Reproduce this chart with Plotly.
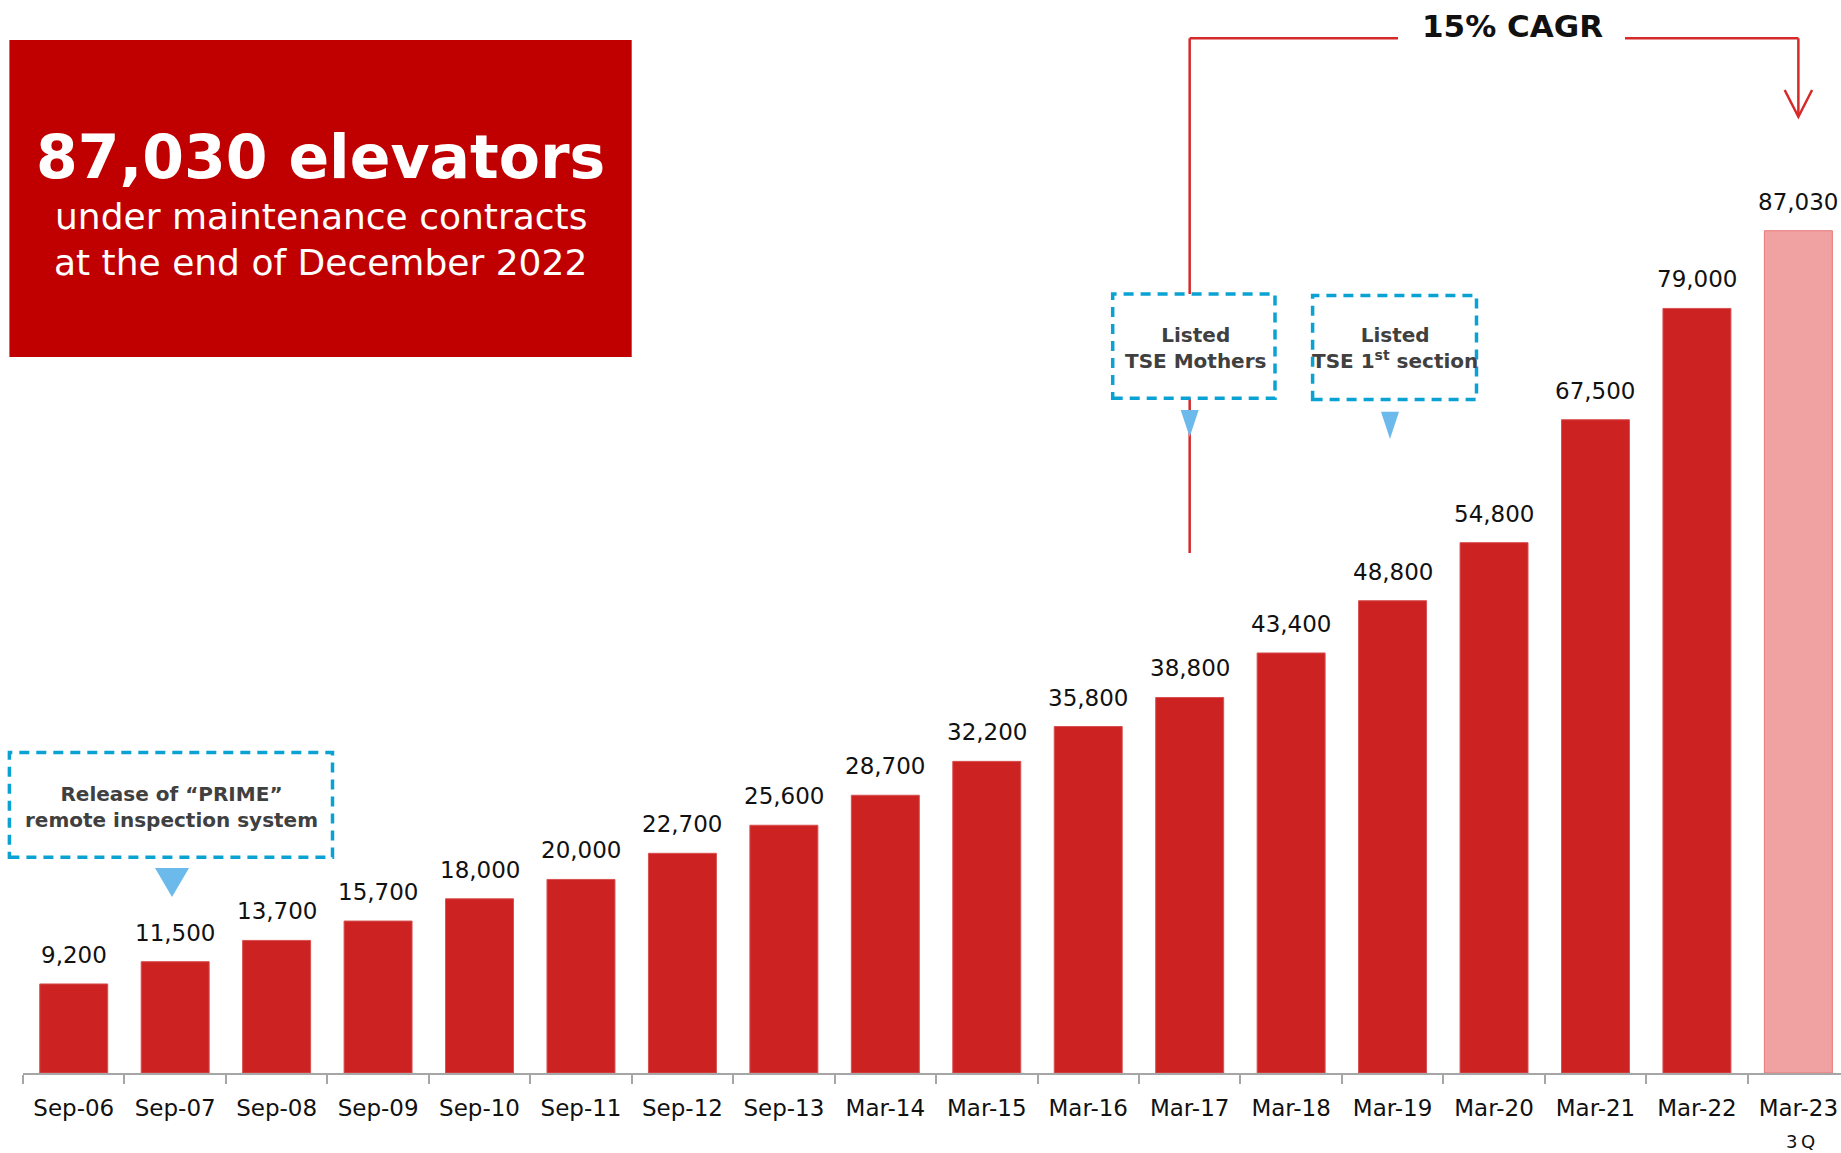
import plotly.graph_objects as go

# ---------------- data ----------------
categories = ["Sep-06", "Sep-07", "Sep-08", "Sep-09", "Sep-10", "Sep-11", "Sep-12",
              "Sep-13", "Mar-14", "Mar-15", "Mar-16", "Mar-17", "Mar-18", "Mar-19",
              "Mar-20", "Mar-21", "Mar-22", "Mar-23"]
units = [9200, 11500, 13700, 15700, 18000, 20000, 22700, 25600, 28700, 32200,
         35800, 38800, 43400, 48800, 54800, 67500, 79000, 87030]
is_partial_year = [False] * 17 + [True]   # Mar-23 is 3Q (end of Dec 2022)

headline_value = "87,030 elevators"
headline_sub = ["under maintenance contracts", "at the end of December 2022"]
cagr_text = "15% CAGR"
events = {
    "prime": "Release of \u201cPRIME\u201d<br>remote inspection system",
    "mothers": "Listed<br>TSE Mothers",
    "first": "Listed<br>TSE 1<sup>st</sup> section",
}

# ---------------- layout geometry ----------------
W, H = 1841, 1153
ML, MB = 23, 80
PW, PH = W - ML, H - MB
CAT_W = 101.45
x_range = [-0.5, -0.5 + PW / CAT_W]
y_range = [0, 110870]

FONT = "DejaVu Sans"
RED = "#CC2222"
PINK = "#F0A2A2"
LINE_RED = "#D42A2A"
BLUE = "#0AA2D2"
TRI = "#6CBAEC"


def px(x):
    return (x - ML) / PW


def py(y):
    return (PH - y) / PH


def cat_px(i):
    return ML + (i + 0.5) * CAT_W


bar_colors = [PINK if p else RED for p in is_partial_year]
bar_lines = ["#E77878" if p else "#D85050" for p in is_partial_year]

fig = go.Figure()
fig.add_trace(go.Bar(
    x=categories, y=units, width=0.67,
    marker=dict(color=bar_colors, line=dict(color=bar_lines, width=1)),
    hoverinfo="x+y",
))

shapes = []
annotations = []

# data labels
for c, v in zip(categories, units):
    annotations.append(dict(x=c, y=v, xref="x", yref="y", text=f"{v:,}",
                            showarrow=False, yanchor="bottom", yshift=14,
                            font=dict(family=FONT, size=23, color="#111111")))

# headline box
shapes.append(dict(type="rect", xref="paper", yref="paper",
                   x0=px(9.4), x1=px(631.7), y0=py(357), y1=py(40),
                   fillcolor="#C00000", line=dict(width=0), layer="above"))
annotations.append(dict(xref="paper", yref="paper", x=px(320.5), y=py(157),
                        text=f"<b>{headline_value}</b>", showarrow=False,
                        xanchor="center", yanchor="middle",
                        font=dict(family=FONT, size=60, color="white")))
for txt, yc in zip(headline_sub, [217, 262]):
    annotations.append(dict(xref="paper", yref="paper", x=px(320.5), y=py(yc),
                            text=txt, showarrow=False,
                            xanchor="center", yanchor="middle",
                            font=dict(family=FONT, size=36, color="white")))

# CAGR bracket
x_m17 = cat_px(11)
x_m23 = cat_px(17)
top_y = 38.3
lw = 2.5
shapes += [
    dict(type="line", xref="paper", yref="paper", x0=px(x_m17), x1=px(x_m17),
         y0=py(top_y), y1=py(553), line=dict(color=LINE_RED, width=lw), layer="above"),
    dict(type="line", xref="paper", yref="paper", x0=px(x_m17), x1=px(1398),
         y0=py(top_y), y1=py(top_y), line=dict(color=LINE_RED, width=lw), layer="above"),
    dict(type="line", xref="paper", yref="paper", x0=px(1625), x1=px(x_m23),
         y0=py(top_y), y1=py(top_y), line=dict(color=LINE_RED, width=lw), layer="above"),
    dict(type="line", xref="paper", yref="paper", x0=px(x_m23), x1=px(x_m23),
         y0=py(top_y), y1=py(116), line=dict(color=LINE_RED, width=lw), layer="above"),
    dict(type="path", xref="paper", yref="paper",
         path=f"M {px(x_m23-13.7)},{py(90)} L {px(x_m23)},{py(116.7)} L {px(x_m23+13.7)},{py(90)}",
         line=dict(color=LINE_RED, width=lw), layer="above"),
]
annotations.append(dict(xref="paper", yref="paper", x=px(1512), y=py(26),
                        text=f"<b>{cagr_text}</b>", showarrow=False,
                        xanchor="center", yanchor="middle",
                        font=dict(family=FONT, size=31, color="#111111")))

# dashed event boxes
boxes = [
    ("prime", 9.4, 752.6, 332.5, 857.3, 171, [793.3, 820]),
    ("mothers", 1112.7, 294, 1275, 398.3, 1195, [335, 360]),
    ("first", 1312.6, 295.5, 1476.5, 399.5, 1395, [335, 361]),
]
for key, x0, y0, x1, y1, xc, lines in boxes:
    shapes.append(dict(type="rect", xref="paper", yref="paper",
                       x0=px(x0), x1=px(x1), y0=py(y1), y1=py(y0),
                       fillcolor="white",
                       line=dict(color=BLUE, width=3.5, dash="10px,7px"),
                       layer="above"))
    annotations.append(dict(xref="paper", yref="paper", x=px(xc),
                            y=py((lines[0] + lines[1]) / 2),
                            text=f"<b>{events[key]}</b>", showarrow=False,
                            xanchor="center", yanchor="middle",
                            font=dict(family=FONT, size=20, color="#404040")))

# event triangles
tris = [(172, 868, 897, 17), (x_m17, 410, 437, 9), (1390, 411.7, 439, 9)]
for xc, ytop, ybot, hw in tris:
    shapes.append(dict(type="path", xref="paper", yref="paper",
                       path=f"M {px(xc-hw)},{py(ytop)} L {px(xc+hw)},{py(ytop)} L {px(xc)},{py(ybot)} Z",
                       fillcolor=TRI, line=dict(width=0), layer="above"))

# 3Q note
annotations.append(dict(xref="paper", yref="paper", x=px(1800), y=py(1141),
                        text="3\u2009Q", showarrow=False,
                        xanchor="center", yanchor="middle", borderpad=0,
                        font=dict(family=FONT, size=18, color="#111111")))

fig.update_layout(
    width=W, height=H,
    margin=dict(l=ML, r=0, t=0, b=MB, pad=0),
    paper_bgcolor="white", plot_bgcolor="white",
    showlegend=False, bargap=0.33,
    shapes=shapes, annotations=annotations,
    font=dict(family=FONT),
)
fig.update_xaxes(
    type="category", range=x_range, showgrid=False, zeroline=False,
    showline=True, linecolor="#A6A6A6", linewidth=1.5,
    ticks="outside", tickson="boundaries", ticklen=9, tickcolor="#A6A6A6", tickwidth=1.5,
    ticklabelstandoff=14,
    tickfont=dict(family=FONT, size=23, color="#111111"),
)
fig.update_yaxes(range=y_range, visible=False, showgrid=False, zeroline=False)

fig.write_html("out.html")
